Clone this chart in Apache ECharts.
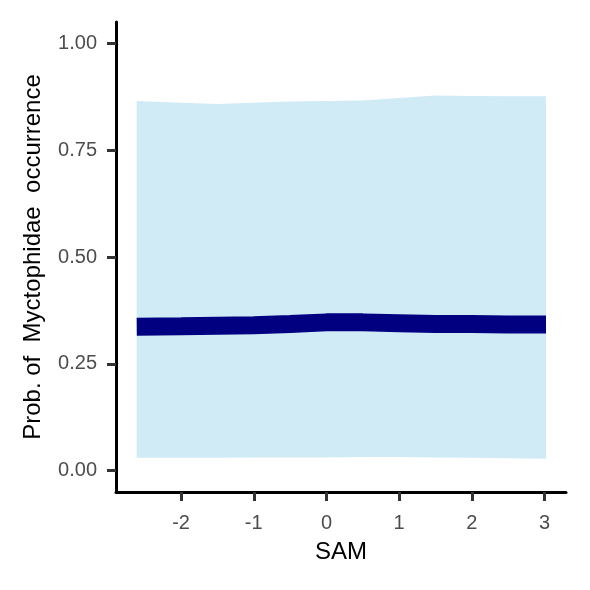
<!DOCTYPE html>
<html>
<head>
<meta charset="utf-8">
<script src="https://cdn.jsdelivr.net/npm/echarts@6/dist/echarts.min.js"></script>
<style>html,body{margin:0;padding:0;background:#fff}#c{width:590px;height:590px}</style>
</head>
<body>
<div id="c"></div>
<script>
const samValues = [-2.61, -2.0, -1.5, -1.0, -0.5, 0.0, 0.5, 1.0, 1.5, 2.0, 2.5, 3.02];
const meanProb  = [0.337, 0.338, 0.339, 0.340, 0.343, 0.347, 0.347, 0.345, 0.343, 0.343, 0.342, 0.342];
const lowerProb = [0.030, 0.030, 0.030, 0.031, 0.031, 0.031, 0.032, 0.032, 0.031, 0.030, 0.029, 0.028];
const upperProb = [0.865, 0.861, 0.858, 0.861, 0.864, 0.865, 0.866, 0.872, 0.878, 0.877, 0.876, 0.876];
const xTicks = [-2, -1, 0, 1, 2, 3];
const yTicks = [0, 0.25, 0.5, 0.75, 1.0];

const chart = echarts.init(document.getElementById('c'), null, {renderer: 'canvas'});
const font = 'Liberation Sans, Arial, sans-serif';
chart.setOption({
  animation: false,
  grid: {left: 116, right: 24, top: 22, bottom: 98},
  xAxis: {
    type: 'value', min: -2.895, max: 3.295,
    name: 'SAM', nameLocation: 'middle', nameGap: 48,
    nameTextStyle: {color: '#000', fontSize: 24, fontFamily: font},
    splitLine: {show: false},
    axisLine: {show: true, onZero: false, lineStyle: {color: '#000', width: 3}},
    axisTick: {show: true, customValues: xTicks, length: 9, lineStyle: {color: '#333', width: 3}},
    axisLabel: {customValues: xTicks, color: '#4d4d4d', fontSize: 20, fontFamily: font, margin: 21}
  },
  yAxis: {
    type: 'value', min: -0.05, max: 1.05,
    name: 'Prob. of  Myctophidae  occurrence', nameLocation: 'middle', nameGap: 71, nameRotate: 90,
    nameTextStyle: {color: '#000', fontSize: 24, fontFamily: font},
    splitLine: {show: false},
    axisLine: {show: true, onZero: false, lineStyle: {color: '#000', width: 3}},
    axisTick: {show: true, customValues: yTicks, length: 9, lineStyle: {color: '#333', width: 3}},
    axisLabel: {customValues: yTicks, color: '#4d4d4d', fontSize: 20, fontFamily: font, margin: 19,
      formatter: v => v.toFixed(2)}
  },
  series: [
    {type: 'custom', silent: true, data: [0],
     renderItem: function (params, api) {
       const pts = [];
       for (let i = 0; i < samValues.length; i++) pts.push(api.coord([samValues[i], upperProb[i]]));
       for (let i = samValues.length - 1; i >= 0; i--) pts.push(api.coord([samValues[i], lowerProb[i]]));
       return {type: 'polygon', shape: {points: pts}, style: {fill: '#d0eaf6'}};
     }},
    {type: 'line', data: samValues.map((x, i) => [x, meanProb[i]]), showSymbol: false, smooth: false,
     lineStyle: {color: '#000080', width: 18, cap: 'butt'}, z: 3}
  ]
});
</script>
</body>
</html>
